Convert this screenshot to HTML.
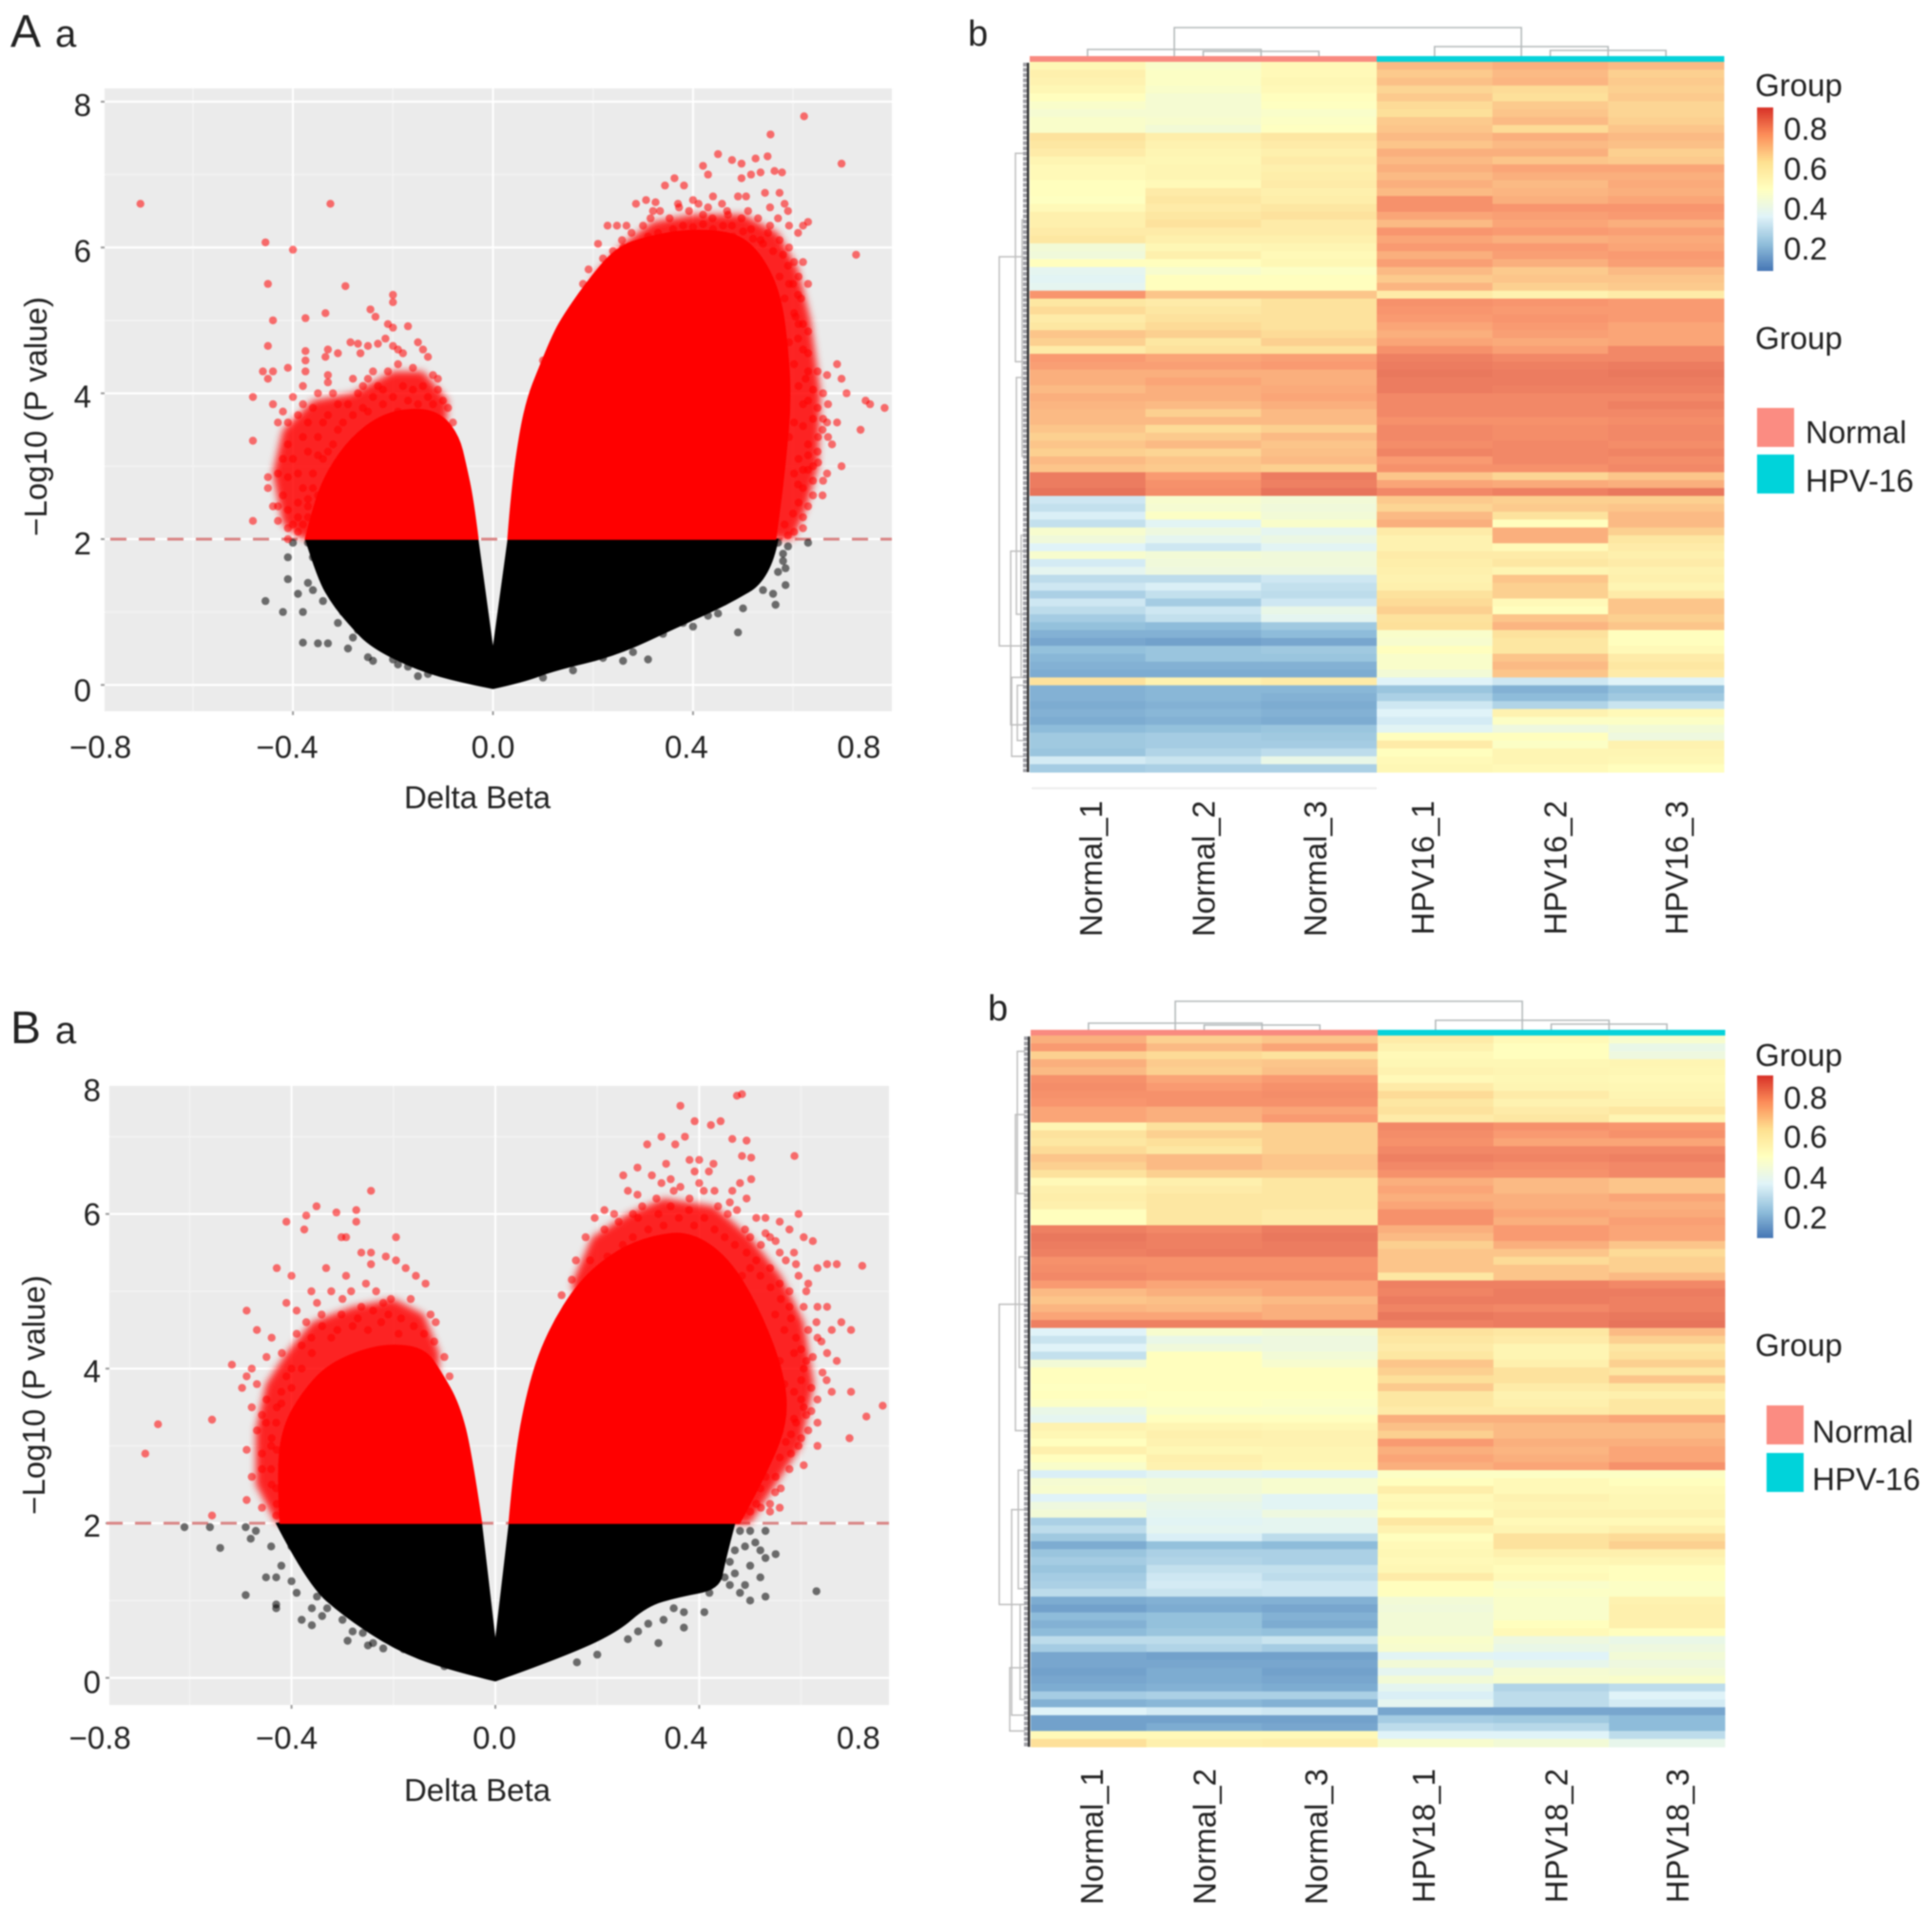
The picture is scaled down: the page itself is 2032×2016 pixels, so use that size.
<!DOCTYPE html>
<html lang="en">
<head>
<meta charset="utf-8">
<title>Volcano plots and methylation heatmaps</title>
<style>
html,body{margin:0;padding:0;background:#fff;}
#figure{display:block;width:2032px;height:2016px;filter:blur(0.8px);}
text{font-family:"Liberation Sans",sans-serif;fill:#222;font-size:33px;}
</style>
</head>
<body>
<svg id="figure" xmlns="http://www.w3.org/2000/svg" width="2032" height="2016" viewBox="0 0 2032 2016">
<defs>
<linearGradient id="legendRampA" x1="0" y1="1" x2="0" y2="0">
<stop offset="0" stop-color="#4575B4"/><stop offset=".1667" stop-color="#91BFDB"/><stop offset=".3333" stop-color="#E0F3F8"/><stop offset=".5" stop-color="#FFFFBF"/><stop offset=".6667" stop-color="#FEE090"/><stop offset=".8333" stop-color="#FC8D59"/><stop offset="1" stop-color="#D73027"/>
</linearGradient>
</defs>
<rect width="2032" height="2016" fill="#fff"/>
<text x="11" y="49" style="font-size:48px">A</text>
<text x="58" y="49" style="font-size:40px">a</text>
<text x="1018" y="48" style="font-size:38px">b</text>
<text x="11" y="1097" style="font-size:48px">B</text>
<text x="58" y="1097" style="font-size:40px">a</text>
<text x="1039" y="1073" style="font-size:38px">b</text>
<g id="volcanoA"></g>
<g id="volcanoB"></g>
<g id="heatA"></g>
<g id="heatB"></g>
<text x="502" y="850" text-anchor="middle">Delta Beta</text>
<text x="502" y="1894" text-anchor="middle">Delta Beta</text>
<text x="49" y="438" text-anchor="middle" transform="rotate(-90 49 438)">−Log10 (P value)</text>
<text x="47" y="1467" text-anchor="middle" transform="rotate(-90 47 1467)">−Log10 (P value)</text>

<text x="1846" y="101">Group</text>
<rect x="1848" y="113" width="17" height="172" fill="url(#legendRampA)"/>
<text x="1876" y="147">0.8</text>
<text x="1876" y="189">0.6</text>
<text x="1876" y="231">0.4</text>
<text x="1876" y="273">0.2</text>
<text x="1846" y="367">Group</text>
<rect x="1848" y="429" width="39" height="41" fill="#FB8C82"/>
<rect x="1848" y="478" width="39" height="41" fill="#00D3DA"/>
<text x="1899" y="466">Normal</text>
<text x="1899" y="517">HPV-16</text>

<text x="1846" y="1121">Group</text>
<rect x="1848" y="1131" width="17" height="171" fill="url(#legendRampA)"/>
<text x="1876" y="1166">0.8</text>
<text x="1876" y="1207">0.6</text>
<text x="1876" y="1250">0.4</text>
<text x="1876" y="1292">0.2</text>
<text x="1846" y="1426">Group</text>
<rect x="1858" y="1478" width="39" height="41" fill="#FB8C82"/>
<rect x="1858" y="1528" width="39" height="41" fill="#00D3DA"/>
<text x="1906" y="1517">Normal</text>
<text x="1906" y="1567">HPV-16</text>
</svg>

<script>
/* ---------- volcano data: [delta beta, -log10 p] ---------- */
const solidRedRightA=[[.03,2],[.037,2.63],[.054,3.47],[.07,3.95],[.091,4.32],[.115,4.72],[.135,5],[.185,5.5],[.246,6],[.31,6.15],[.394,6.25],[.49,6.2],[.54,5.87],[.575,5.35],[.59,4.6],[.595,3.85],[.585,3.1],[.575,2.5],[.565,2]];
const solidRedLeftA=[[-.03,2],[-.04,2.55],[-.055,3.03],[-.068,3.4],[-.1,3.7],[-.148,3.8],[-.22,3.72],[-.283,3.4],[-.33,2.95],[-.357,2.5],[-.375,2]];
const haloRightA=[[.2,5.6],[.26,6.05],[.32,6.35],[.4,6.45],[.5,6.45],[.57,6.2],[.61,5.7],[.635,5],[.655,4],[.65,3],[.625,2.4],[.6,2],[.3,2],[.2,4]];
const haloLeftA=[[-.38,2],[-.42,2.2],[-.44,2.9],[-.42,3.5],[-.36,3.9],[-.28,4.0],[-.2,4.3],[-.14,4.3],[-.09,3.9],[-.1,3],[-.3,2]];
const solidBlackA=[[-.375,2],[-.35,1.45],[-.32,1.1],[-.29,.85],[-.245,.52],[-.15,.2],[-.06,.03],[0,-.05],[.06,.04],[.123,.2],[.246,.4],[.37,.8],[.468,1.1],[.555,1.45],[.57,2],[.03,2],[0,.49],[-.03,2]];
const redPointsA=[[.622,7.8],[.555,7.55],[.697,7.15],[.726,5.9],[.45,7.28],[.478,7.2],[.497,7.15],[.516,7],[.525,7.22],[.549,7.25],[.42,7.12],[.43,7],[.497,6.95],[.535,7.03],[.563,7.05],[.578,7.03],[.573,6.75],[.583,6.6],[.592,6.3],[.62,6.3],[.63,6.35],[.544,6.75],[.554,6.55],[.506,6.7],[.458,6.6],[.468,6.5],[.363,6.95],[.344,6.85],[.382,6.85],[.325,6.62],[.286,6.6],[.306,6.65],[.267,6.3],[.248,6.3],[.229,6.3],[.21,6.05],[.191,5.7],[.258,6.1],[.277,6.2],[.315,6.4],[.334,6.5],[.353,6.4],[.372,6.55],[.392,6.5],[.411,6.6],[.43,6.55],[.439,6.4],[.478,6.3],[.497,6.4],[.516,6.25],[.535,6.1],[.554,6.3],[.573,6.1],[.592,6],[.602,5.8],[.611,5.6],[.62,5.8],[.63,5.5],[.616,5.3],[.592,5.5],[.573,5.6],[.583,5.3],[.602,5.1],[.611,4.95],[.63,4.85],[.62,4.6],[.63,4.3],[.649,4.3],[.668,4.25],[.688,4.4],[.697,4.2],[.707,4],[.745,3.9],[.754,3.85],[.783,3.8],[.735,3.5],[.688,3.6],[.668,3.6],[.649,3.8],[.63,3.9],[.611,4.1],[.602,4.4],[.592,4.7],[.63,3.3],[.649,3.2],[.64,3],[.668,2.9],[.659,2.6],[.64,2.6],[.62,2.3],[.602,2.1],[.583,2.2],[.62,2.7],[.602,2.9],[.611,3.1],[.592,3.4],[.602,3.6],[.611,2.5],[.697,3],[.659,3.5],[.678,3.3],
[.24,5.95],[.26,6],[.29,6.05],[.31,6.15],[.33,6.2],[.36,6.25],[.38,6.3],[.4,6.28],[.42,6.32],[.44,6.25],[.46,6.3],[.48,6.15],[.5,6.22],[.52,6.12],[.54,6.05],[.56,5.95],[.58,5.9],[.59,5.75],[.6,5.5],[.61,5.35],[.605,5.05],[.62,4.95],[.61,4.75],[.63,4.55],[.625,4.2],[.64,4.05],[.62,3.85],[.64,3.65],[.62,3.55],[.65,3.4],[.63,3.15],[.62,2.95],[.64,2.8],[.61,2.75],[.63,2.45],[.6,2.35],[.62,2.15],[.59,2.05],[.3,6.3],[.32,6.5],[.37,6.6],[.4,6.65],[.42,6.45],[.44,6.7],[.47,6.45],[.49,6.7],[.51,6.5],[.53,6.4],[.55,6.2],[.57,6.4],[.59,6.5],[.61,6.2],[.22,5.85],[.2,5.45],[.18,5.5],[.17,5.25],[.15,5],[.13,4.8],[.12,4.62],[.1,4.45],[.66,4],[.67,3.85],[.66,3.65],[.67,3.4],[.65,3.05],[.66,2.8],[.63,2.95],
[-.705,6.6],[-.325,6.6],[-.455,6.07],[-.4,5.97],[-.45,5.5],[-.295,5.47],[-.44,5],[-.375,5.03],[-.335,5.1],[-.2,5.35],[-.2,5.25],[-.245,5.15],[-.235,5.05],[-.21,4.95],[-.2,4.9],[-.17,4.92],[-.45,4.65],[-.375,4.58],[-.375,4.45],[-.33,4.6],[-.31,4.55],[-.335,4.5],[-.285,4.7],[-.27,4.68],[-.25,4.65],[-.265,4.55],[-.23,4.68],[-.215,4.75],[-.2,4.65],[-.19,4.6],[-.18,4.55],[-.15,4.7],[-.14,4.6],[-.13,4.5],[-.19,4.4],[-.21,4.3],[-.24,4.3],[-.16,4.35],[-.12,4.25],[-.11,4.2],[-.46,4.3],[-.44,4.3],[-.45,4.2],[-.41,4.35],[-.375,4.3],[-.33,4.25],[-.33,4.15],[-.25,4.2],[-.23,4.1],[-.28,4.2],[-.48,3.95],[-.38,4.1],[-.4,3.95],[-.35,4],[-.32,4],[-.27,4],[-.44,3.85],[-.42,3.75],[-.38,3.85],[-.36,3.8],[-.31,3.85],[-.29,3.85],[-.26,3.8],[-.2,3.95],[-.17,3.9],[-.13,3.95],[-.09,3.8],[-.1,3.9],[-.43,3.6],[-.41,3.6],[-.39,3.7],[-.37,3.6],[-.33,3.7],[-.3,3.6],[-.48,3.35],[-.41,3.3],[-.38,3.4],[-.35,3.4],[-.32,3.3],[-.42,3.1],[-.4,3.1],[-.37,3.2],[-.35,3.15],[-.43,2.9],[-.45,2.85],[-.41,2.85],[-.39,2.9],[-.38,2.7],[-.36,2.9],[-.45,2.7],[-.42,2.6],[-.44,2.45],[-.43,2.45],[-.41,2.4],[-.39,2.5],[-.37,2.55],[-.48,2.25],[-.43,2.25],[-.41,2.15],[-.39,2.1],[-.38,2.2],[-.41,2],[-.4,2.2],[-.37,2.3],
[-.34,3.6],[-.28,3.7],[-.25,3.75],[-.22,3.85],[-.19,3.75],[-.15,3.85],[-.12,3.85],[-.24,3.95],[-.34,3.1],[-.36,2.7],[-.37,2.45],[-.39,2.3],[-.35,2.6],[-.33,3.2],[-.31,3.5],[-.16,4.05],[-.14,4.1],[-.11,4.05],[-.08,3.6],[-.22,4.05],[-.18,4.1],[-.26,4.1]];
const blackPointsA=[[-.455,1.15],[-.42,1],[-.38,1],[-.38,.58],[-.35,.57],[-.33,.57],[-.29,.5],[-.25,.38],[-.24,.33],[-.2,.35],[-.17,.25],[-.13,.15],[-.41,1.45],[-.37,1.4],[-.39,1.25],[-.41,1.75],[-.35,1.65],[-.33,1.5],[-.4,1.95],[-.37,1.95],[-.34,1.85],[-.32,1.2],[-.3,1],[-.27,.75],[-.22,.55],[.49,.72],[.31,.35],[.43,.95],[.38,.85],[.34,.7],[.28,.45],[.22,.37],[.1,.1],[.565,1.1],[.585,1.37],[.57,1.55],[.585,1.6],[.58,1.8],[.63,1.95],[.57,1.95],[.56,1.25],[.54,1.3],[.5,1.05],[.45,.98],[.59,1.9],[.58,1.7],[-.36,1.75],[-.36,1.3],[-.34,1.15],[-.31,.85],[-.28,.65],[-.19,.28],[-.15,.12],[.16,.2],[.26,.33],[.4,.8]];

const solidRedRightB=[[.027,2],[.039,2.9],[.068,3.85],[.104,4.49],[.164,5.13],[.237,5.53],[.309,5.72],[.382,5.77],[.455,5.45],[.515,4.81],[.563,4.01],[.575,3.37],[.539,2.73],[.479,2]];
const solidRedLeftB=[[-.027,2],[-.047,2.9],[-.071,3.54],[-.108,3.97],[-.138,4.25],[-.198,4.32],[-.259,4.25],[-.331,4.04],[-.38,3.68],[-.416,3.26],[-.428,2.7],[-.422,2]];
const haloRightB=[[.15,5.1],[.19,5.7],[.26,6],[.33,6.2],[.43,6.1],[.5,5.7],[.56,5.2],[.605,4.6],[.625,3.8],[.6,3],[.54,2.4],[.5,2],[.3,2],[.2,4]];
const haloLeftB=[[-.43,2],[-.47,2.5],[-.47,3.2],[-.45,3.8],[-.41,4.2],[-.36,4.6],[-.28,4.8],[-.2,4.9],[-.14,4.7],[-.11,4.2],[-.12,3],[-.3,2]];
const solidBlackB=[[-.43,2],[-.368,1.21],[-.295,.79],[-.198,.37],[-.1,.12],[0,-.04],[.116,.23],[.237,.58],[.297,.93],[.36,1.05],[.44,1.15],[.45,1.5],[.47,2],[.027,2],[0,.47],[-.027,2]];
const redPointsB=[[.484,7.55],[.474,7.53],[.363,7.4],[.391,7.2],[.423,7.15],[.442,7.2],[.493,6.95],[.465,6.97],[.484,6.75],[.502,6.73],[.587,6.75],[.326,7],[.298,6.9],[.353,6.9],[.372,7],[.381,6.7],[.4,6.7],[.419,6.55],[.391,6.55],[.428,6.65],[.335,6.65],[.344,6.45],[.326,6.4],[.307,6.5],[.279,6.6],[.251,6.5],[.26,6.3],[.279,6.25],[.233,6],[.214,6.05],[.195,5.95],[.177,5.7],[.158,5.4],[.186,5.4],[.214,5.8],[.242,5.9],[.27,6],[.288,6.1],[.316,6.2],[.344,6.1],[.363,6.35],[.381,6.2],[.409,6.3],[.437,6.1],[.456,6],[.465,6.3],[.474,6.05],[.493,6.2],[.502,6.45],[.512,5.95],[.53,5.95],[.558,5.9],[.577,5.8],[.595,6],[.605,5.7],[.623,5.65],[.586,5.5],[.539,5.7],[.521,5.6],[.558,5.5],[.632,5.3],[.651,5.35],[.67,5.35],[.72,5.33],[.614,5.1],[.595,5.2],[.577,5],[.558,5.1],[.539,5.3],[.512,5.4],[.493,5.5],[.484,5.2],[.632,4.8],[.651,4.8],[.605,4.8],[.679,4.6],[.698,4.5],[.66,4.5],[.632,4.4],[.614,4.5],[.577,4.8],[.567,4.5],[.549,4.7],[.651,4.2],[.623,4.15],[.67,4.1],[.642,3.95],[.605,4],[.586,4.2],[.558,4.1],[.698,3.7],[.66,3.7],[.632,3.6],[.605,3.5],[.586,3.7],[.567,3.8],[.76,3.52],[.728,3.38],[.632,3.3],[.614,3.2],[.595,3],[.632,3],[.695,3.1],[.605,2.75],[.577,2.7],[.558,2.85],[.549,2.4],[.539,2.25],[.539,2.15],[.558,2.2],[.512,2.25],[.521,2.2],[.493,2.3],[.53,2.6],[.512,2.7],[.558,3.2],[.586,3.35],
[.2,5.2],[.22,5.45],[.25,5.6],[.27,5.7],[.3,5.8],[.33,5.85],[.36,5.95],[.39,5.85],[.41,5.95],[.43,5.8],[.45,5.7],[.47,5.6],[.49,5.8],[.5,5.3],[.52,5.2],[.54,5.05],[.56,4.9],[.58,4.65],[.59,4.4],[.6,4.25],[.61,4.1],[.6,3.85],[.62,3.75],[.6,3.6],[.62,3.45],[.59,3.3],[.6,3.1],[.57,3.05],[.58,2.9],[.55,2.6],[.56,2.45],[.52,2.45],[.5,2.15],[.15,5.15],[.13,4.95],[.28,5.95],[.32,6],[.35,6.3],[.38,6.05],[.4,6.4],[.43,6.3],[.46,6.15],[.48,6.4],[.5,5.7],[.53,5.75],[.55,5.65],[.57,5.4],[.59,5.35],[.61,5],[.63,4.6],[.64,4.35],[.65,3.85],[.61,3.4],[.58,3.15],
[-.244,6.3],[-.273,6.05],[-.273,5.9],[-.312,6.02],[-.351,6.1],[-.371,5.98],[-.41,5.9],[-.375,5.8],[-.302,5.7],[-.293,5.7],[-.195,5.7],[-.263,5.5],[-.244,5.5],[-.244,5.35],[-.215,5.45],[-.195,5.4],[-.176,5.3],[-.156,5.2],[-.137,5.1],[-.293,5.2],[-.332,5.3],[-.429,5.3],[-.4,5.2],[-.361,5],[-.322,5],[-.283,5],[-.254,5.1],[-.234,5],[-.205,4.9],[-.166,4.9],[-.127,4.7],[-.117,4.6],[-.41,4.85],[-.39,4.75],[-.371,4.6],[-.341,4.7],[-.302,4.7],[-.263,4.8],[-.224,4.6],[-.185,4.65],[-.488,4.75],[-.468,4.5],[-.439,4.4],[-.419,4.2],[-.449,4.15],[-.4,4],[-.38,4.3],[-.361,4.4],[-.322,4.4],[-.478,4],[-.488,3.9],[-.517,4.05],[-.497,3.75],[-.468,3.8],[-.449,3.6],[-.478,3.5],[-.458,3.4],[-.429,3.5],[-.468,3.2],[-.439,3.1],[-.488,2.95],[-.458,2.9],[-.429,2.95],[-.478,2.6],[-.458,2.7],[-.439,2.5],[-.488,2.3],[-.458,2.2],[-.429,2.25],[-.556,2.1],[-.556,3.34],[-.662,3.28],[-.687,2.9],[-.41,3.9],[-.419,2.75],
[-.31,4.5],[-.28,4.55],[-.25,4.5],[-.22,4.85],[-.19,4.45],[-.16,4.55],[-.14,4.45],[-.12,4.35],[-.1,4.15],[-.09,3.9],[-.34,4.55],[-.36,4.2],[-.38,4],[-.4,3.75],[-.42,3.55],[-.43,3.3],[-.44,3],[-.44,2.7],[-.43,2.45],[-.43,2.1],[-.45,3.3],[-.42,3.7],[-.39,4.45],[-.35,4.85],[-.3,4.9],[-.27,4.65],[-.24,4.75],[-.21,4.7]];
const blackPointsB=[[-.61,1.95],[-.56,1.95],[-.54,1.68],[-.49,1.95],[-.48,1.8],[-.47,1.9],[-.44,1.7],[-.45,1.3],[-.43,1.3],[-.49,1.07],[-.43,.95],[-.43,.9],[-.38,.75],[-.36,.68],[-.29,.48],[-.25,.42],[-.26,.58],[-.22,.38],[-.18,.37],[-.1,.15],[-.42,1.45],[-.4,1.25],[-.38,1.5],[-.39,1.1],[-.36,.9],[-.35,1.05],[-.33,.9],[-.3,.75],[.2,.3],[.32,.45],[.28,.6],[.3,.7],[.37,.65],[.41,.85],[.37,.85],[.35,.9],[.63,1.12],[.5,1.45],[.53,1.55],[.55,1.6],[.52,1.3],[.49,1.2],[.5,1],[.48,1.1],[.53,1.05],[.52,1.65],[.53,1.9],[.51,1.75],[.5,1.9],[.46,1.5],[.47,1.35],[.44,1.5],[.45,1.3],[.49,1.7],[.47,1.65],[.48,1.9],[.46,1.2],[.42,1.1],[.33,.75],[.26,.5],[.16,.2],[-.34,.8],[-.28,.6],[-.24,.45],[-.4,1.7],[-.41,1.9]];

const xMajorTicks=[-.8,-.4,0,.4,.8];
const xMinorTicks=[-.6,-.2,.2,.6];
const yMajorTicks=[0,2,4,6,8];
const yMinorTicks=[1,3,5,7];
const xTickLabels=["−0.8","−0.4","0.0","0.4","0.8"];
const yTickLabels=["0","2","4","6","8"];
const significanceThreshold=2;

/* ---------- heatmap data: beta value per row, columns in order ---------- */
const samplesA=["Normal_1","Normal_2","Normal_3","HPV16_1","HPV16_2","HPV16_3"];
const samplesB=["Normal_1","Normal_2","Normal_3","HPV18_1","HPV18_2","HPV18_3"];
const heatRowsA=[[.53,.47,.52,.70,.72,.70],[.56,.48,.52,.67,.70,.66],[.55,.48,.53,.69,.71,.67],[.53,.47,.52,.65,.64,.66],[.50,.45,.50,.67,.63,.67],[.47,.45,.49,.64,.67,.65],[.45,.45,.47,.63,.68,.65],[.47,.46,.48,.67,.70,.66],[.47,.44,.49,.68,.64,.68],[.62,.57,.60,.70,.72,.70],[.60,.55,.58,.68,.70,.69],[.58,.54,.56,.72,.72,.66],[.54,.53,.58,.70,.68,.67],[.52,.54,.56,.72,.74,.74],[.52,.54,.57,.70,.72,.72],[.50,.52,.58,.72,.70,.73],[.50,.58,.56,.70,.71,.72],[.49,.60,.57,.78,.72,.74],[.52,.58,.60,.78,.77,.77],[.56,.60,.62,.74,.75,.76],[.56,.62,.58,.70,.74,.72],[.58,.58,.58,.77,.76,.75],[.60,.56,.56,.74,.72,.73],[.44,.53,.54,.76,.76,.74],[.43,.56,.52,.72,.75,.76],[.50,.50,.53,.75,.72,.75],[.38,.46,.48,.70,.67,.70],[.37,.50,.50,.67,.68,.68],[.38,.50,.50,.71,.66,.67],[.77,.68,.68,.58,.55,.58],[.60,.58,.62,.78,.77,.76],[.64,.60,.62,.77,.76,.76],[.58,.62,.62,.76,.77,.76],[.60,.64,.62,.74,.76,.74],[.68,.66,.64,.72,.75,.74],[.66,.60,.66,.74,.73,.74],[.58,.62,.62,.78,.75,.80],[.76,.74,.75,.82,.80,.80],[.75,.75,.76,.83,.82,.83],[.72,.72,.72,.84,.83,.84],[.72,.74,.72,.83,.83,.83],[.70,.72,.73,.83,.82,.82],[.72,.72,.74,.80,.80,.80],[.71,.70,.72,.80,.80,.82],[.70,.66,.70,.80,.80,.80],[.70,.70,.70,.78,.78,.79],[.68,.64,.66,.80,.79,.80],[.66,.67,.70,.80,.79,.80],[.68,.70,.68,.79,.80,.79],[.66,.65,.69,.81,.80,.81],[.70,.68,.70,.76,.80,.79],[.68,.67,.66,.78,.78,.80],[.83,.76,.83,.68,.65,.68],[.83,.78,.82,.74,.73,.72],[.85,.79,.85,.80,.82,.84],[.33,.46,.44,.67,.66,.66],[.31,.45,.43,.65,.67,.68],[.35,.48,.44,.70,.62,.70],[.31,.37,.47,.72,.50,.70],[.46,.42,.38,.58,.72,.66],[.43,.38,.41,.55,.72,.60],[.36,.33,.37,.55,.52,.58],[.46,.44,.43,.58,.58,.56],[.34,.43,.43,.57,.60,.58],[.38,.42,.42,.56,.54,.55],[.30,.30,.33,.55,.68,.56],[.33,.35,.31,.56,.66,.54],[.27,.31,.30,.62,.66,.58],[.33,.26,.33,.64,.52,.68],[.30,.33,.40,.66,.50,.68],[.26,.31,.38,.62,.68,.66],[.23,.22,.25,.63,.71,.68],[.20,.20,.22,.47,.62,.50],[.18,.17,.18,.46,.60,.50],[.23,.24,.25,.50,.60,.52],[.21,.24,.24,.47,.68,.58],[.20,.20,.20,.47,.70,.60],[.19,.19,.19,.44,.68,.58],[.62,.55,.58,.36,.33,.36],[.20,.21,.21,.24,.20,.23],[.20,.21,.20,.27,.22,.25],[.19,.20,.19,.33,.28,.32],[.20,.21,.20,.36,.55,.52],[.19,.20,.19,.34,.48,.48],[.22,.23,.24,.37,.42,.44],[.25,.26,.25,.50,.50,.42],[.25,.26,.26,.58,.48,.55],[.24,.28,.30,.50,.54,.54],[.34,.32,.40,.52,.54,.53],[.26,.27,.27,.53,.52,.50]];
const heatRowsB=[[.72,.66,.68,.58,.52,.46],[.76,.70,.74,.55,.50,.40],[.66,.64,.62,.52,.50,.42],[.72,.67,.68,.53,.53,.54],[.70,.66,.69,.55,.54,.53],[.78,.74,.76,.52,.53,.52],[.79,.76,.78,.58,.54,.53],[.78,.78,.79,.64,.58,.54],[.77,.78,.78,.60,.55,.55],[.74,.72,.74,.62,.58,.60],[.74,.72,.76,.58,.60,.54],[.54,.62,.66,.80,.78,.77],[.62,.66,.66,.79,.76,.78],[.60,.63,.66,.78,.74,.74],[.64,.60,.66,.80,.80,.80],[.68,.70,.68,.82,.81,.82],[.66,.70,.68,.80,.79,.80],[.62,.66,.66,.78,.78,.80],[.52,.56,.60,.72,.70,.68],[.56,.58,.60,.74,.70,.68],[.57,.60,.60,.72,.72,.74],[.56,.60,.60,.74,.72,.72],[.50,.60,.58,.78,.74,.73],[.50,.60,.58,.78,.72,.75],[.82,.80,.83,.72,.76,.74],[.84,.82,.84,.70,.76,.74],[.83,.82,.83,.66,.72,.68],[.82,.83,.83,.68,.68,.64],[.78,.78,.78,.68,.64,.66],[.79,.78,.78,.68,.68,.66],[.80,.79,.79,.60,.68,.70],[.76,.74,.74,.82,.82,.80],[.70,.72,.74,.81,.83,.83],[.68,.69,.70,.83,.83,.82],[.71,.70,.72,.81,.80,.82],[.74,.74,.72,.84,.83,.84],[.82,.82,.82,.82,.83,.85],[.36,.46,.44,.62,.60,.70],[.32,.40,.42,.60,.58,.66],[.36,.43,.42,.58,.54,.60],[.31,.50,.44,.60,.54,.62],[.44,.50,.46,.68,.56,.66],[.50,.50,.50,.66,.62,.60],[.50,.50,.50,.63,.62,.68],[.49,.50,.50,.67,.58,.60],[.50,.49,.49,.60,.55,.56],[.48,.49,.48,.60,.56,.60],[.40,.47,.47,.58,.58,.60],[.38,.50,.50,.72,.72,.74],[.55,.54,.53,.69,.70,.70],[.53,.56,.55,.66,.70,.70],[.50,.55,.55,.76,.72,.72],[.56,.53,.54,.72,.71,.74],[.50,.56,.54,.74,.72,.74],[.47,.55,.53,.72,.74,.78],[.35,.38,.37,.48,.48,.48],[.45,.44,.46,.50,.52,.50],[.46,.44,.46,.57,.52,.52],[.36,.41,.37,.52,.55,.53],[.42,.39,.37,.53,.54,.53],[.44,.38,.42,.50,.55,.55],[.27,.37,.38,.60,.52,.52],[.30,.38,.38,.55,.54,.56],[.25,.35,.30,.50,.62,.64],[.19,.23,.22,.52,.62,.66],[.24,.27,.27,.53,.56,.56],[.26,.28,.27,.52,.53,.54],[.24,.31,.31,.53,.51,.50],[.26,.33,.30,.58,.52,.50],[.27,.34,.33,.50,.47,.48],[.30,.32,.33,.50,.48,.48],[.19,.20,.20,.44,.47,.55],[.17,.19,.18,.43,.47,.56],[.22,.23,.20,.44,.47,.56],[.20,.23,.19,.44,.50,.56],[.22,.24,.23,.44,.52,.50],[.30,.30,.32,.47,.42,.40],[.26,.28,.26,.46,.40,.42],[.18,.17,.17,.37,.36,.44],[.18,.18,.18,.44,.39,.42],[.17,.19,.17,.38,.45,.44],[.18,.19,.18,.44,.46,.47],[.19,.20,.19,.38,.28,.30],[.26,.27,.27,.35,.30,.36],[.20,.21,.20,.38,.30,.34],[.36,.34,.33,.18,.18,.18],[.17,.17,.17,.26,.25,.22],[.17,.19,.18,.30,.29,.22],[.52,.52,.52,.36,.36,.30],[.63,.56,.57,.46,.44,.39]];
const groupColors=["#F98A80","#F98A80","#F98A80","#06D2DA","#06D2DA","#06D2DA"];
/* dendrogram merges: [left column position, right column position, height above bar] */
const columnMerges=[[1,2,5],[0,1.5,7],[4,5,6],[3,4.5,10],[.75,3.75,30]];
/* row dendrogram: [depth, first row, last row] */
const rowMergesA=[[32,24.7,74],[15,11.6,38],[20,62,84],[14,40,70],[19,78,88],[13,79,86],[8,20,50],[9,60,78]];
const rowMergesB=[[33,34,72],[16,10,50],[20,60,86],[14,2,20],[12,28,42],[22,80,88],[13,55,70],[11,72,84]];

/* ---------- helpers ---------- */
const NS="http://www.w3.org/2000/svg";
function mk(parent,tag,attrs,txt){
  const el=document.createElementNS(NS,tag);
  for(const k in attrs){el.setAttribute(k,attrs[k]);}
  if(txt!==undefined){el.textContent=txt;}
  parent.appendChild(el);
  return el;
}
const heatStops=[[.09,[69,117,180]],[.225,[145,191,219]],[.36,[224,243,248]],[.495,[255,255,191]],[.63,[253,224,154]],[.765,[249,151,111]],[.9,[221,95,79]]];
function heatColor(v){
  if(v<=heatStops[0][0]){return "rgb("+heatStops[0][1].join(",")+")";}
  for(let i=1;i<heatStops.length;i++){
    if(v<=heatStops[i][0]){
      const a=heatStops[i-1],b=heatStops[i],t=(v-a[0])/(b[0]-a[0]);
      return "rgb("+a[1].map((c,j)=>Math.round(c+(b[1][j]-c)*t)).join(",")+")";
    }
  }
  return "rgb("+heatStops[6][1].join(",")+")";
}
function smoothPath(pts,x,y){
  const sharp=p=>p[1]===significanceThreshold||p[0]===0;
  const X=p=>x(p[0]),Y=p=>y(p[1]);
  let d="M"+X(pts[0]).toFixed(1)+" "+Y(pts[0]).toFixed(1);
  for(let i=1;i<pts.length;i++){
    const p=pts[i],q=pts[(i+1)%pts.length];
    if(sharp(p)){d+="L"+X(p).toFixed(1)+" "+Y(p).toFixed(1);continue;}
    const ex=sharp(q)?X(q):(X(p)+X(q))/2,ey=sharp(q)?Y(q):(Y(p)+Y(q))/2;
    d+="Q"+X(p).toFixed(1)+" "+Y(p).toFixed(1)+" "+ex.toFixed(1)+" "+ey.toFixed(1);
  }
  return d+"Z";
}

/* ---------- volcano ---------- */
function drawVolcano(root,cfg){
  const x=cfg.x,y=cfg.y;
  const bg=mk(root,"rect",{x:cfg.left,y:cfg.top,width:cfg.right-cfg.left,height:cfg.bottom-cfg.top,fill:"#EBEBEB"});
  
  
  xMinorTicks.forEach(v=>{
    const l=mk(root,"line",{x1:x(v),x2:x(v),y1:cfg.top,y2:cfg.bottom,stroke:"#F3F3F3","stroke-width":1.5});
    
    
  });
  yMinorTicks.forEach(v=>{
    if(y(v)<cfg.top){return;}
    const l=mk(root,"line",{x1:cfg.left,x2:cfg.right,y1:y(v),y2:y(v),stroke:"#F3F3F3","stroke-width":1.5});
    
    
  });
  xMajorTicks.forEach((v,i)=>{
    const px=x(v);
    if(px>cfg.left&&px<cfg.right){
      const l=mk(root,"line",{x1:px,x2:px,y1:cfg.top,y2:cfg.bottom,stroke:"#fff","stroke-width":2});
      
      
      const t=mk(root,"line",{x1:px,x2:px,y1:cfg.bottom,y2:cfg.bottom+4,stroke:"#999","stroke-width":2});
      
      
    }
    const lab=mk(root,"text",{x:px+cfg.xLabelOffsets[i],y:cfg.xLabelY,"text-anchor":"middle"},xTickLabels[i]);
    
    
  });
  yMajorTicks.forEach((v,i)=>{
    const py=y(v);
    if(py>cfg.top&&py<cfg.bottom){
      const l=mk(root,"line",{x1:cfg.left,x2:cfg.right,y1:py,y2:py,stroke:"#fff","stroke-width":2.2});
      
      
      const t=mk(root,"line",{x1:cfg.left-4,x2:cfg.left,y1:py,y2:py,stroke:"#999","stroke-width":2});
      
      
    }
    const lab=mk(root,"text",{x:cfg.yLabelX,y:py+cfg.yLabelOffsets[i],"text-anchor":"end"},yTickLabels[i]);
    
    
  });
  const dash=mk(root,"line",{x1:cfg.dashLeft,x2:cfg.right,y1:y(significanceThreshold),y2:y(significanceThreshold),stroke:"#D98585","stroke-width":3,"stroke-dasharray":"17 13"});
  
  
  const toPts=a=>a.map(p=>x(p[0]).toFixed(1)+","+y(p[1]).toFixed(1)).join(" ");
  cfg.halos.forEach(h=>{
    const g=mk(root,"polygon",{points:toPts(h),fill:"#ff0000","fill-opacity":.85,style:"filter:blur(4px)"});
    
    
  });
  const blackCloud=mk(root,"path",{d:smoothPath(cfg.black,x,y),fill:"#000",stroke:"#000","stroke-width":1});
  
  
  cfg.blackPts.forEach(p=>{
    const c=mk(root,"circle",{cx:x(p[0]).toFixed(1),cy:y(p[1]).toFixed(1),r:4.2,fill:"#000","fill-opacity":.55});
    
    
  });
  cfg.reds.forEach(r=>{
    const g=mk(root,"path",{d:smoothPath(r,x,y),fill:"#ff0000",stroke:"#ff0000","stroke-width":1.5});
    
    
  });
  cfg.redPts.forEach(p=>{
    const c=mk(root,"circle",{cx:x(p[0]).toFixed(1),cy:y(p[1]).toFixed(1),r:4.2,fill:"#ff0000","fill-opacity":.55});
    
    
  });
}
drawVolcano(document.getElementById("volcanoA"),{
  left:110,right:938,top:93,bottom:748,
  x:v=>518.5+526*v,y:v=>720.3-76.67*v,
  xLabelOffsets:[8,-6,0,-7,-36],xLabelY:797,
  yLabelX:96,yLabelOffsets:[17,16,15,15,15],dashLeft:116,
  black:solidBlackA,blackPts:blackPointsA,
  halos:[haloRightA,haloLeftA],reds:[solidRedRightA,solidRedLeftA],redPts:redPointsA
});
drawVolcano(document.getElementById("volcanoB"),{
  left:115,right:935,top:1142,bottom:1793,
  x:v=>521+536*v,y:v=>1764.5-81.3*v,
  xLabelOffsets:[13,-5,-1,-14,-47],xLabelY:1839,
  yLabelX:106,yLabelOffsets:[16,14,14,12,44],dashLeft:112,
  black:solidBlackB,blackPts:blackPointsB,
  halos:[haloRightB,haloLeftB],reds:[solidRedRightB,solidRedLeftB],redPts:redPointsB
});

/* ---------- heatmap ---------- */
function drawHeatmap(root,cfg){
  const rows=cfg.rows,n=rows.length,cols=cfg.samples.length;
  const cw=(cfg.right-cfg.left)/cols,rh=(cfg.bottom-cfg.top)/n;
  const colX=c=>cfg.left+c*cw;
  const colMid=c=>cfg.left+(c+.5)*cw;
  const rowY=r=>cfg.top+r*rh;
  rows.forEach((row,r)=>{
    row.forEach((v,c)=>{
      const cell=mk(root,"rect",{x:colX(c).toFixed(1),y:rowY(r).toFixed(1),width:(cw+.5).toFixed(1),height:(rh+.5).toFixed(1),fill:heatColor(v)});
      
      
    });
  });
  cfg.samples.forEach((s,c)=>{
    const bar=mk(root,"rect",{x:colX(c).toFixed(1),y:cfg.top-6,width:(cw+.5).toFixed(1),height:6,fill:groupColors[c]});
    
    
    const bx=colMid(c)+cfg.labelOffsets[c]+12;
    const lab=mk(root,"text",{x:bx.toFixed(1),y:cfg.labelY,"text-anchor":"end",transform:"rotate(-90 "+bx.toFixed(1)+" "+cfg.labelY+")"},s);
    
    
  });
  /* column dendrogram */
  const barTop=cfg.top-6;
  columnMerges.forEach(m=>{
    const h=barTop-m[2];
    const x1=colMid(m[0]),x2=colMid(m[1]);
    const drop=mk(root,"path",{d:"M"+x1+" "+barTop+"V"+h+"H"+x2+"V"+barTop,fill:"none",stroke:"#B5BABB","stroke-width":1.6});
    
    
  });
  cfg.rowMerges.forEach(m=>{
    const xx=cfg.left-m[0],y1=rowY(m[1]),y2=rowY(m[2]);
    const b=mk(root,"path",{d:"M"+(cfg.left-6)+" "+y1+"H"+xx+"V"+y2+"H"+(cfg.left-6),fill:"none",stroke:"#BDBDBD","stroke-width":1.5});
    
    
  });
  const band=mk(root,"line",{x1:cfg.left-5,x2:cfg.left-5,y1:cfg.top+1,y2:cfg.bottom,stroke:"#a0a0a6","stroke-width":4,"stroke-dasharray":"4 1.5"});
  
  
  const edge=mk(root,"rect",{x:cfg.left-3,y:cfg.top+1,width:2.4,height:cfg.bottom-cfg.top-1,fill:"#333"});
  
  
  if(cfg.footer){
    const f=mk(root,"line",{x1:cfg.left+2,x2:colX(3),y1:cfg.bottom+17,y2:cfg.bottom+17,stroke:"#ececec","stroke-width":2});
    
    
  }
}
drawHeatmap(document.getElementById("heatA"),{left:1083,right:1813,top:65,bottom:812,rows:heatRowsA,samples:samplesA,labelY:842,labelOffsets:[3,0,-4,-13,5,11],rowMerges:rowMergesA,footer:true});
drawHeatmap(document.getElementById("heatB"),{left:1084,right:1814,top:1089,bottom:1837,rows:heatRowsB,samples:samplesB,labelY:1860,labelOffsets:[3,0,-4,-13,5,11],rowMerges:rowMergesB,footer:false});
</script>
</body>
</html>
